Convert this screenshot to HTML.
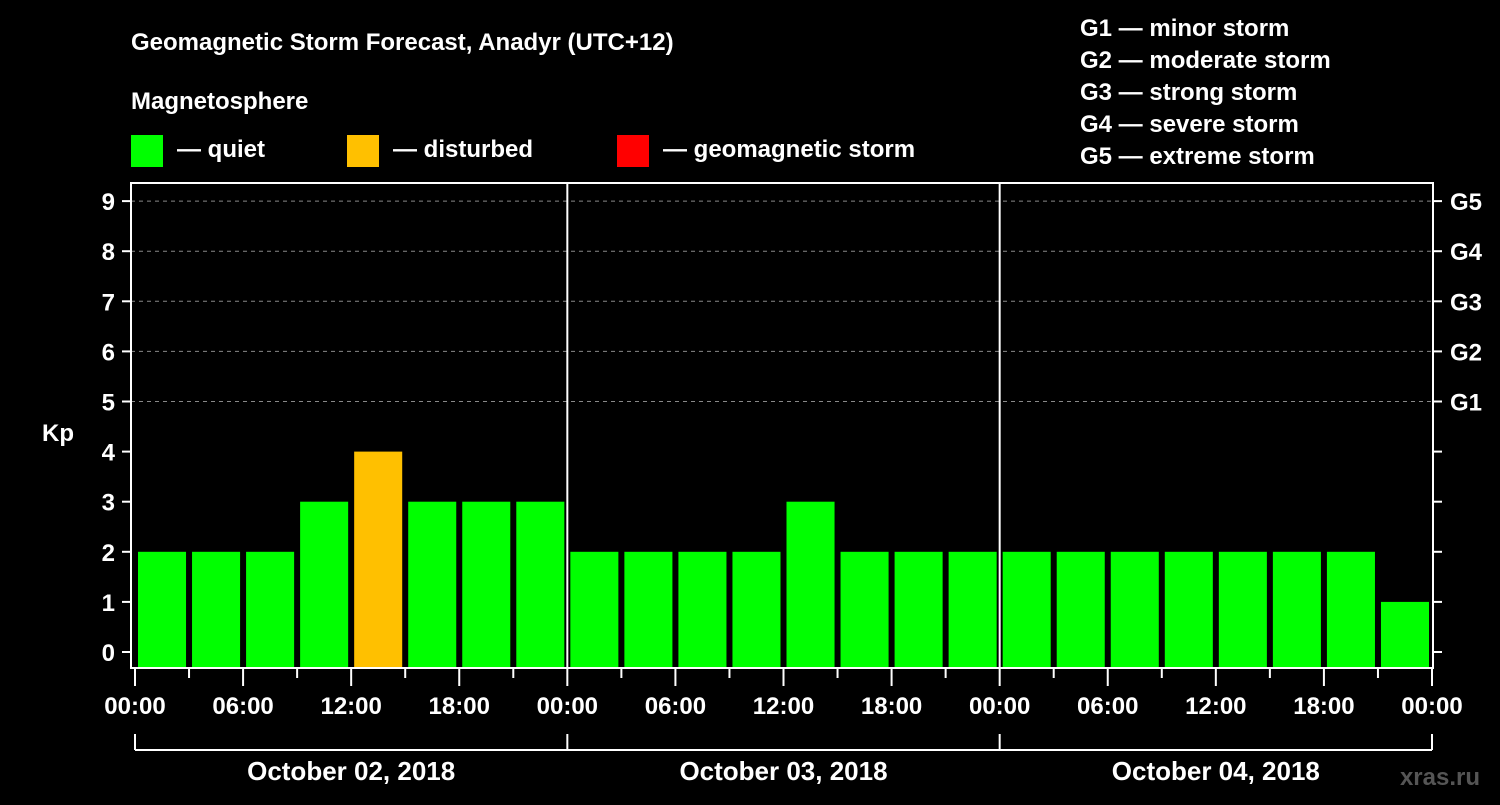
<!DOCTYPE html>
<html><head><meta charset="utf-8"><style>
body{margin:0;background:#000;width:1500px;height:800px;overflow:hidden}
svg text{font-family:"Liberation Sans",Arial,sans-serif;font-weight:bold;fill:#fff}
</style></head><body>
<svg id="c" width="1500" height="800">
<text x="131" y="50" font-size="24">Geomagnetic Storm Forecast, Anadyr (UTC+12)</text>
<text x="131" y="109" font-size="24">Magnetosphere</text>
<rect x="131" y="135" width="32" height="32" fill="#00ff00"/>
<text x="177" y="157" font-size="24">— quiet</text>
<rect x="347" y="135" width="32" height="32" fill="#ffc000"/>
<text x="393" y="157" font-size="24">— disturbed</text>
<rect x="617" y="135" width="32" height="32" fill="#ff0000"/>
<text x="663" y="157" font-size="24">— geomagnetic storm</text>
<g font-size="24">
<text x="1080" y="36">G1 — minor storm</text>
<text x="1080" y="68">G2 — moderate storm</text>
<text x="1080" y="100">G3 — strong storm</text>
<text x="1080" y="132">G4 — severe storm</text>
<text x="1080" y="164">G5 — extreme storm</text>
</g>
<text x="42" y="441" font-size="24">Kp</text>
<text x="1590" y="785" font-size="24" text-anchor="end" fill="#555" style="fill:#555" transform="translate(-110,0)">xras.ru</text>
<g id="g"></g>
</svg>
<script>
const kpValues=[2,2,2,3,4,3,3,3, 2,2,2,2,3,2,2,2, 2,2,2,2,2,2,2,1];
const xTickLabels=["00:00","06:00","12:00","18:00","00:00","06:00","12:00","18:00","00:00","06:00","12:00","18:00","00:00"];
const dayLabels=["October 02, 2018","October 03, 2018","October 04, 2018"];
const gLabels=["G1","G2","G3","G4","G5"];
const yTicks=[0,1,2,3,4,5,6,7,8,9];

const NS="http://www.w3.org/2000/svg",g=document.getElementById('g');
const X0=135,X1=1432,L=131,R=1433,T=183,B=668;
const slot=(X1-X0)/kpValues.length;
const x=i=>X0+i*slot;
const y=v=>652-v*50.1;
function el(t,a,txt){const e=document.createElementNS(NS,t);for(const k in a)e.setAttribute(k,a[k]);if(txt!=null)e.textContent=txt;g.appendChild(e);return e;}
function color(v){return v>=5?'#ff0000':v>=4?'#ffc000':'#00ff00';}
// grid
yTicks.forEach(v=>{if(v>=5){const e=el('line',{x1:L,x2:R,y1:y(v),y2:y(v),stroke:'#888','stroke-dasharray':'4,4','stroke-width':1});

}});
// bars
kpValues.forEach((v,i)=>{const e=el('rect',{x:x(i)+3,y:y(v),width:slot-6,height:667-y(v),fill:color(v)});

});
// frame
const f=el('rect',{x:L,y:T,width:R-L,height:B-T,fill:'none',stroke:'#fff','stroke-width':2});


[1,2].forEach(d=>{const e=el('line',{x1:x(d*8),x2:x(d*8),y1:T,y2:B,stroke:'#fff','stroke-width':2});

});
// y ticks
yTicks.forEach(v=>{el('line',{x1:122,x2:L,y1:y(v),y2:y(v),stroke:'#fff','stroke-width':2});
el('line',{x1:R,x2:1442,y1:y(v),y2:y(v),stroke:'#fff','stroke-width':2});
const t=el('text',{x:115,y:y(v)+9,'font-size':24,'text-anchor':'end'},v);

});
gLabels.forEach((s,i)=>{const t=el('text',{x:1450,y:y(5+i)+9,'font-size':24},s);

});
// x ticks
for(let i=0;i<=kpValues.length;i++){const maj=i%2==0;el('line',{x1:x(i),x2:x(i),y1:B,y2:maj?686:678,stroke:'#fff','stroke-width':2});}
xTickLabels.forEach((s,i)=>{const t=el('text',{x:x(i*2),y:714,'font-size':24,'text-anchor':'middle'},s);

});
// day brackets
el('line',{x1:X0,x2:X1,y1:750,y2:750,stroke:'#fff','stroke-width':2});
for(let d=0;d<=3;d++)el('line',{x1:x(d*8),x2:x(d*8),y1:734,y2:750,stroke:'#fff','stroke-width':2});
dayLabels.forEach((s,d)=>{const t=el('text',{x:(x(d*8)+x(d*8+8))/2,y:780,'font-size':26,'text-anchor':'middle'},s);

});
</script>
</body></html>
